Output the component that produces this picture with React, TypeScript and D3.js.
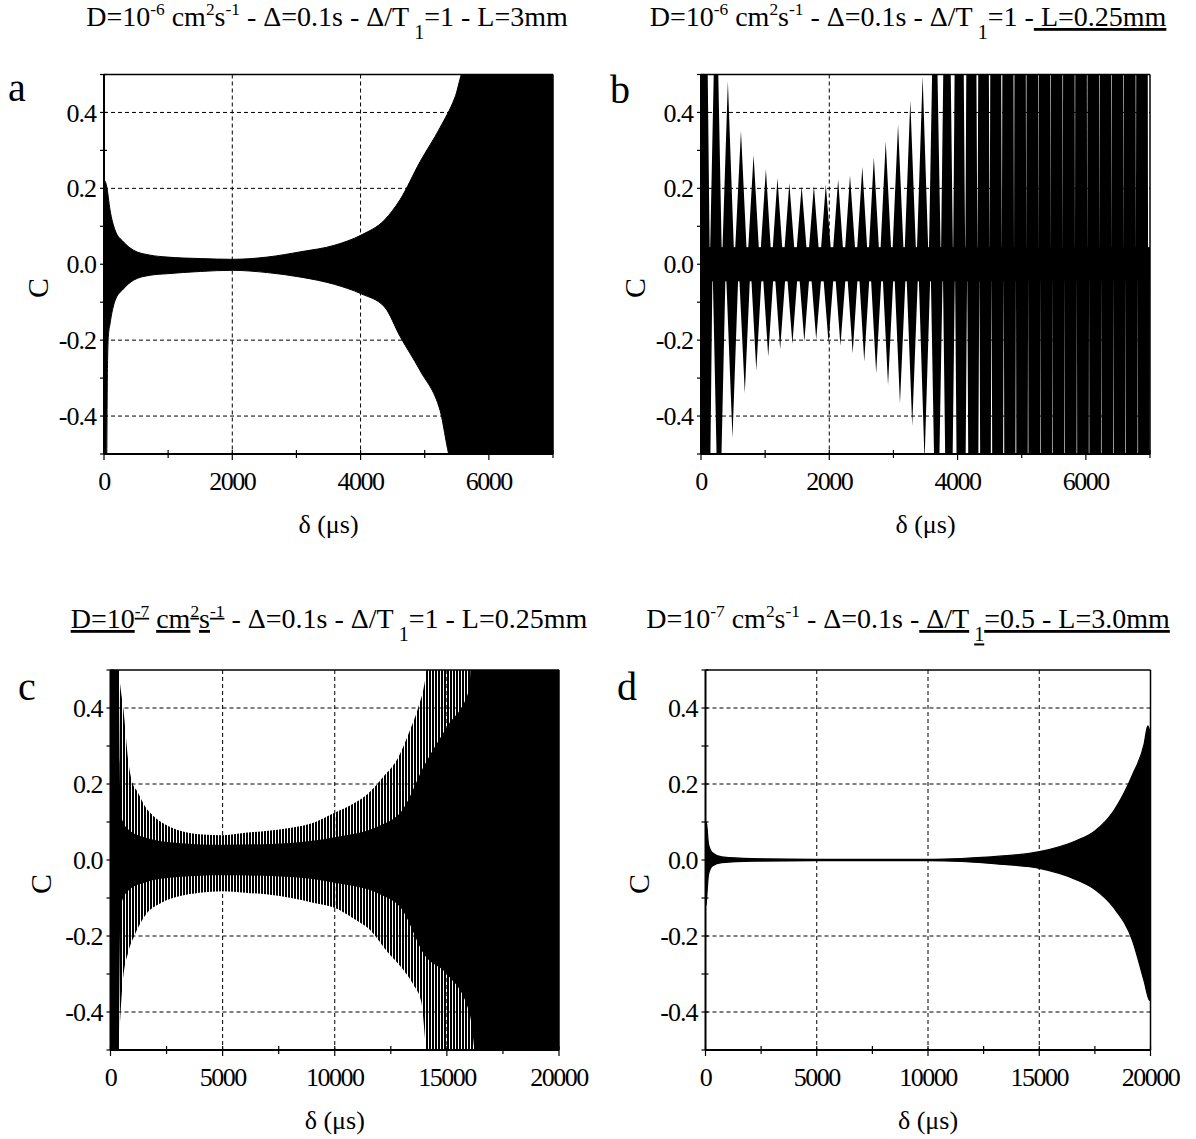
import React from "react";
import * as d3 from "d3";

const FONT = "'Liberation Serif', 'Times New Roman', Times, serif";

// ---------------- Panel a : envelope of C(δ) ----------------
const aUpperX = [0, 10, 42, 94, 172, 303, 460, 720, 982, 1504, 2000, 2548, 3070, 3593, 4010, 4376, 4615, 4927, 5239, 5472, 5628, 7000];
const aUpperC = [0.05, 0.22, 0.205, 0.143, 0.09, 0.059, 0.037, 0.024, 0.019, 0.015, 0.013, 0.019, 0.033, 0.05, 0.077, 0.117, 0.17, 0.27, 0.36, 0.44, 0.52, 0.55];
const aLowerX = [0, 5, 40, 52, 68, 94, 172, 303, 460, 720, 982, 1504, 2000, 2548, 3070, 3593, 4010, 4376, 4615, 4927, 5239, 5425, 7000];
const aLowerC = [-0.55, -0.55, -0.55, -0.3, -0.19, -0.157, -0.096, -0.065, -0.042, -0.029, -0.025, -0.019, -0.016, -0.022, -0.034, -0.053, -0.078, -0.113, -0.19, -0.28, -0.385, -0.52, -0.55];

// ---------------- Panel b : individual lobes ----------------
const bUpperPeakX = [40, 235, 419, 623, 820, 1012, 1192, 1377, 1569, 1760, 1946, 2138, 2323, 2515, 2695, 2880, 3072, 3263, 3455, 3645, 3835, 4025, 4215, 4405, 4595, 4785, 4975, 5165, 5355, 5545, 5735, 5925, 6115, 6305, 6495, 6685, 6875];
const bUpperPeakC = [1.5, 0.8, 0.483, 0.352, 0.288, 0.251, 0.227, 0.214, 0.206, 0.207, 0.21, 0.223, 0.234, 0.257, 0.282, 0.324, 0.368, 0.432, 0.496, 0.9, 1.3, 2.0, 3, 4, 5, 6, 8, 10, 10, 10, 10, 10, 10, 10, 10, 10, 10];
const bLowerPeakX = [80, 280, 491, 683, 862, 1048, 1234, 1425, 1611, 1796, 1988, 2174, 2365, 2545, 2731, 2916, 3102, 3293, 3485, 3675, 3865, 4055, 4245, 4435, 4625, 4815, 5005, 5195, 5385, 5575, 5765, 5955, 6145, 6335, 6525, 6715, 6905];
const bLowerPeakC = [-1.5, -0.8, -0.458, -0.34, -0.28, -0.243, -0.224, -0.21, -0.204, -0.198, -0.207, -0.215, -0.235, -0.256, -0.287, -0.318, -0.366, -0.427, -0.52, -0.9, -1.3, -2.0, -3, -4, -5, -6, -8, -10, -10, -10, -10, -10, -10, -10, -10, -10, -10];
const bCoreC = [-0.045, 0.045];

// ---------------- Panel c : envelope (spiky) + solid core ----------------
const cUpperX = [0, 120, 300, 410, 580, 800, 970, 1180, 1570, 1911, 2423, 3106, 3959, 4983, 6007, 7031, 8055, 9078, 10017, 10785, 11468, 12150, 12833, 13345, 13686, 14027, 14198, 20000];
const cUpperC = [0.55, 0.55, 0.55, 0.473, 0.394, 0.257, 0.204, 0.182, 0.138, 0.116, 0.094, 0.077, 0.068, 0.065, 0.072, 0.077, 0.085, 0.099, 0.125, 0.147, 0.174, 0.218, 0.27, 0.34, 0.394, 0.473, 0.55, 0.55];
const cLowerX = [0, 300, 400, 546, 802, 1058, 1570, 2253, 3106, 3959, 4983, 6007, 7031, 8055, 9078, 10017, 10785, 11638, 12321, 13003, 13515, 13857, 14198, 20000];
const cLowerC = [-0.55, -0.55, -0.45, -0.32, -0.24, -0.2, -0.144, -0.113, -0.095, -0.086, -0.082, -0.086, -0.091, -0.1, -0.113, -0.126, -0.152, -0.188, -0.24, -0.285, -0.329, -0.373, -0.55, -0.55];
const cCoreUpperX = [0, 350, 450, 800, 1500, 3000, 5000, 8000, 10000, 12000, 13000, 14000, 15000, 16000, 16100, 20000];
const cCoreUpperC = [0.55, 0.55, 0.12, 0.08, 0.06, 0.045, 0.04, 0.045, 0.06, 0.09, 0.13, 0.25, 0.35, 0.45, 0.55, 0.55];
const cCoreLowerX = [0, 350, 450, 800, 1500, 3000, 5000, 8000, 10000, 12000, 13000, 14000, 15000, 16000, 16400, 20000];
const cCoreLowerC = [-0.55, -0.55, -0.12, -0.08, -0.06, -0.045, -0.04, -0.045, -0.06, -0.09, -0.13, -0.25, -0.3, -0.4, -0.55, -0.55];

// ---------------- Panel d : envelope ----------------
const dUpperX = [0, 20, 51, 137, 308, 735, 2103, 5000, 10000, 11504, 13214, 15009, 16632, 17487, 18342, 19197, 19709, 19880, 20000];
const dUpperC = [0.0, 0.1, 0.094, 0.041, 0.019, 0.008, 0.0035, 0.002, 0.002, 0.004, 0.01, 0.022, 0.05, 0.076, 0.129, 0.225, 0.304, 0.353, 0.33];
const dLowerX = [0, 20, 51, 137, 308, 735, 2103, 5000, 10000, 11504, 13214, 15009, 16632, 17487, 18342, 19197, 19709, 19966, 20000];
const dLowerC = [0.0, -0.12, -0.1, -0.038, -0.016, -0.007, -0.003, -0.002, -0.002, -0.004, -0.011, -0.022, -0.051, -0.077, -0.125, -0.213, -0.318, -0.37, -0.35];

// ---------------- Axes ----------------
const yMajor = [-0.4, -0.2, 0, 0.2, 0.4];
const yMajorLabels = ["-0.4", "-0.2", "0.0", "0.2", "0.4"];
const yMinor = [-0.5, -0.4, -0.3, -0.2, -0.1, 0, 0.1, 0.2, 0.3, 0.4, 0.5];
const xMajorShort = [0, 2000, 4000, 6000];
const xMinorShort = [0, 1000, 2000, 3000, 4000, 5000, 6000, 7000];
const xMajorLong = [0, 5000, 10000, 15000, 20000];
const xMinorLong = [0, 2500, 5000, 7500, 10000, 12500, 15000, 17500, 20000];

type Seg = { t: string; s?: "sup" | "sub"; u?: boolean; dx?: number };

const titleA: Seg[] = [
  { t: "D=10" }, { t: "-6", s: "sup" }, { t: " cm" }, { t: "2", s: "sup" }, { t: "s" }, { t: "-1", s: "sup" },
  { t: " - Δ=0.1s - Δ/T" }, { t: "1", s: "sub", dx: 5 }, { t: "=1 - L=3mm" },
];
const titleB: Seg[] = [
  { t: "D=10" }, { t: "-6", s: "sup" }, { t: " cm" }, { t: "2", s: "sup" }, { t: "s" }, { t: "-1", s: "sup" },
  { t: " - Δ=0.1s - Δ/T" }, { t: "1", s: "sub", dx: 5 }, { t: "=1 -" }, { t: " L=0.25mm", u: true },
];
const titleC: Seg[] = [
  { t: "D=10", u: true }, { t: "-7", s: "sup", u: true }, { t: " " }, { t: "cm", u: true }, { t: "2", s: "sup", u: true }, { t: "s", u: true }, { t: "-1", s: "sup", u: true },
  { t: " - Δ=0.1s - Δ/T" }, { t: "1", s: "sub", dx: 5 }, { t: "=1 - L=0.25mm" },
];
const titleD: Seg[] = [
  { t: "D=10" }, { t: "-7", s: "sup" }, { t: " cm" }, { t: "2", s: "sup" }, { t: "s" }, { t: "-1", s: "sup" },
  { t: " - Δ=0.1s -" }, { t: " Δ/T", u: true }, { t: "1", s: "sub", dx: 5, u: true }, { t: "=0.5 - L=3.0mm", u: true },
];

function Title({ x, y, segs, size }: { x: number; y: number; segs: Seg[]; size: number }) {
  let cur = 0;
  const spans = segs.map((sg, i) => {
    const target = sg.s === "sup" ? -0.4 * size : sg.s === "sub" ? 0.48 * size : 0;
    const dy = target - cur;
    cur = target;
    const fs = sg.s === "sup" ? size * 0.62 : sg.s === "sub" ? size * 0.72 : size;
    return (
      <tspan key={i} dy={dy} dx={sg.dx || 0} fontSize={fs} style={{ textDecoration: sg.u ? "underline" : "none" }}>
        {sg.t}
      </tspan>
    );
  });
  return (
    <text x={x} y={y} textAnchor="middle" fontFamily={FONT} fontSize={size} style={{ whiteSpace: "pre" }}>
      {spans}
    </text>
  );
}

type Box = { left: number; right: number; top: number; bottom: number };
type Sc = d3.ScaleLinear<number, number>;

function envArea(xs: number[], cs: number[], x: Sc, y: Sc) {
  const pts = xs.map((v, i) => [v, cs[i]] as [number, number]);
  return (
    d3
      .area<[number, number]>()
      .x((d) => x(d[0]))
      .y0(y(0))
      .y1((d) => y(d[1]))
      .curve(d3.curveMonotoneX)(pts) || ""
  );
}

// one seamless zig-zag polygon: base (at C=0) midway between neighbouring peaks, apex at each peak
function lobeZigzag(xs: number[], cs: number[], x: Sc, y: Sc) {
  const pts: [number, number][] = [];
  xs.forEach((xc, i) => {
    const prev = i > 0 ? xs[i - 1] : xc - (xs[1] - xs[0]);
    if (i === 0) pts.push([x((prev + xc) / 2), y(0)]);
    const next = i < xs.length - 1 ? xs[i + 1] : xc + (xc - xs[i - 1]);
    pts.push([x(xc), y(cs[i])]);
    pts.push([x((xc + next) / 2), y(0)]);
  });
  return (d3.line()(pts) || "") + "Z";
}

function Panel({
  id, box, xMax, xMajor, xMinor, letter, letterPos, cPos, draw,
}: {
  id: string; box: Box; xMax: number; xMajor: number[]; xMinor: number[];
  letter: string; letterPos: [number, number]; cPos: [number, number];
  draw: (x: Sc, y: Sc) => React.ReactNode;
}) {
  const x = d3.scaleLinear().domain([0, xMax]).range([box.left, box.right]);
  const y = d3.scaleLinear().domain([-0.5, 0.5]).range([box.bottom, box.top]);
  const midX = (box.left + box.right) / 2;
  return (
    <g>
      <defs>
        <clipPath id={`clip-${id}`}>
          <rect x={box.left} y={box.top} width={box.right - box.left} height={box.bottom - box.top} />
        </clipPath>
      </defs>
      {xMajor.filter((v) => v > 0 && v < xMax).map((v) => (
        <line key={`gx${v}`} x1={x(v)} x2={x(v)} y1={box.top} y2={box.bottom} stroke="#000" strokeWidth={1} strokeDasharray="4 3" />
      ))}
      {yMajor.map((v) => (
        <line key={`gy${v}`} x1={box.left} x2={box.right} y1={y(v)} y2={y(v)} stroke="#000" strokeWidth={1} strokeDasharray="4 3" />
      ))}
      <g clipPath={`url(#clip-${id})`}>{draw(x, y)}</g>
      <line x1={box.left} x2={box.right} y1={box.top} y2={box.top} stroke="#000" strokeWidth={1.5} />
      <line x1={box.right} x2={box.right} y1={box.top} y2={box.bottom} stroke="#000" strokeWidth={1.5} />
      <line x1={box.left} x2={box.left} y1={box.top} y2={box.bottom} stroke="#000" strokeWidth={2} />
      <line x1={box.left} x2={box.right} y1={box.bottom} y2={box.bottom} stroke="#000" strokeWidth={2} />
      {xMinor.map((v) => (
        <line key={`tx${v}`} x1={x(v)} x2={x(v)} y1={box.bottom - 4} y2={box.bottom + (xMajor.includes(v) ? 6 : 4)} stroke="#000" strokeWidth={1.2} />
      ))}
      {yMinor.map((v) => (
        <line key={`ty${v}`} x1={box.left - 4} x2={box.left + 3} y1={y(v)} y2={y(v)} stroke="#000" strokeWidth={1.2} />
      ))}
      {xMajor.map((v) => (
        <text key={`lx${v}`} x={x(v)} y={box.bottom + 36} textAnchor="middle" fontFamily={FONT} fontSize={26} letterSpacing={-1.5}>
          {String(v)}
        </text>
      ))}
      {yMajor.map((v, i) => (
        <text key={`ly${v}`} x={box.left - 8} y={y(v)} dy="0.35em" textAnchor="end" fontFamily={FONT} fontSize={26} letterSpacing={-1}>
          {yMajorLabels[i]}
        </text>
      ))}
      <text x={midX} y={box.bottom + 79} textAnchor="middle" fontFamily={FONT} fontSize={26}>
        δ (μs)
      </text>
      <text x={cPos[0]} y={cPos[1]} textAnchor="middle" dy="0.35em" fontFamily={FONT} fontSize={30} transform={`rotate(-90 ${cPos[0]} ${cPos[1]})`}>
        C
      </text>
      <text x={letterPos[0]} y={letterPos[1]} fontFamily={FONT} fontSize={40}>
        {letter}
      </text>
    </g>
  );
}

export default function App() {
  const boxA: Box = { left: 104, right: 553, top: 74.5, bottom: 454 };
  const boxB: Box = { left: 701, right: 1150, top: 74.5, bottom: 454 };
  const boxC: Box = { left: 110.5, right: 559, top: 670, bottom: 1050 };
  const boxD: Box = { left: 705.5, right: 1150.5, top: 670, bottom: 1050 };

  return (
    <div style={{ position: "absolute", left: 0, top: 0 }}>
      <svg width={1196} height={1139} viewBox="0 0 1196 1139" style={{ display: "block", background: "#fff" }}>
        <rect x={0} y={0} width={1196} height={1139} fill="#fff" />
        <defs>
          <pattern id="hatch" width={3} height={10} patternUnits="userSpaceOnUse">
            <rect x={0} y={0} width={2} height={10} fill="#000" />
          </pattern>
        </defs>

        <Title x={327} y={26} segs={titleA} size={28} />
        <Title x={908} y={26} segs={titleB} size={28} />
        <Title x={329} y={628} segs={titleC} size={28} />
        <Title x={908} y={628} segs={titleD} size={28} />

        <Panel
          id="a" box={boxA} xMax={7000} xMajor={xMajorShort} xMinor={xMinorShort}
          letter="a" letterPos={[8, 101]} cPos={[37, 288]}
          draw={(x, y) => (
            <g>
              <path d={envArea(aUpperX, aUpperC, x, y)} fill="#000" stroke="#000" strokeWidth={1} />
              <path d={envArea(aLowerX, aLowerC, x, y)} fill="#000" stroke="#000" strokeWidth={1} />
            </g>
          )}
        />
        <Panel
          id="b" box={boxB} xMax={7000} xMajor={xMajorShort} xMinor={xMinorShort}
          letter="b" letterPos={[610, 103]} cPos={[634, 288]}
          draw={(x, y) => (
            <g>
              <rect x={x(0)} width={x(7000) - x(0)} y={y(bCoreC[1])} height={y(bCoreC[0]) - y(bCoreC[1])} fill="#000" />
              <path d={lobeZigzag(bUpperPeakX, bUpperPeakC, x, y)} fill="#000" />
              <path d={lobeZigzag(bLowerPeakX, bLowerPeakC, x, y)} fill="#000" />
            </g>
          )}
        />
        <Panel
          id="c" box={boxC} xMax={20000} xMajor={xMajorLong} xMinor={xMinorLong}
          letter="c" letterPos={[18, 700]} cPos={[40, 884]}
          draw={(x, y) => (
            <g>
              <path d={envArea(cUpperX, cUpperC, x, y)} fill="url(#hatch)" />
              <path d={envArea(cLowerX, cLowerC, x, y)} fill="url(#hatch)" />
              <path d={envArea(cCoreUpperX, cCoreUpperC, x, y)} fill="#000" />
              <path d={envArea(cCoreLowerX, cCoreLowerC, x, y)} fill="#000" />
            </g>
          )}
        />
        <Panel
          id="d" box={boxD} xMax={20000} xMajor={xMajorLong} xMinor={xMinorLong}
          letter="d" letterPos={[617, 700]} cPos={[638, 884]}
          draw={(x, y) => (
            <g>
              <path d={envArea(dUpperX, dUpperC, x, y)} fill="#000" stroke="#000" strokeWidth={1.2} />
              <path d={envArea(dLowerX, dLowerC, x, y)} fill="#000" stroke="#000" strokeWidth={1.2} />
            </g>
          )}
        />
      </svg>
    </div>
  );
}
